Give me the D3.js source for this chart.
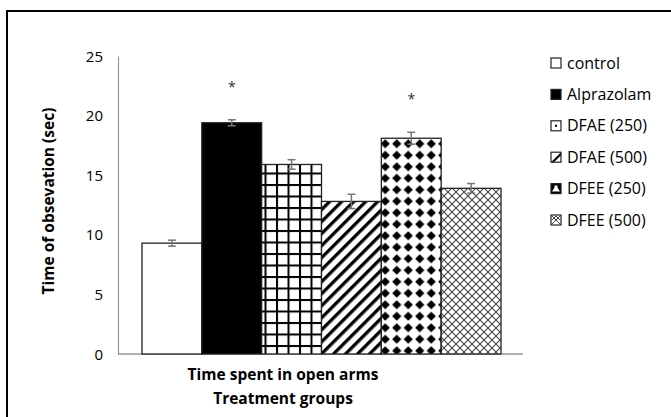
<!DOCTYPE html>
<html>
<head>
<meta charset="utf-8">
<script src="https://cdn.jsdelivr.net/npm/d3@7"></script>
<style>
  html, body { margin: 0; padding: 0; background: #fff; }
  svg { display: block; }
  text { font-family: "Open Sans", "Noto Sans", sans-serif; }
</style>
</head>
<body>
<svg id="chart" width="671" height="417"></svg>
<script>
// Treatment groups and mean time spent in open arms (sec) with SEM
const groups = ["control", "Alprazolam", "DFAE (250)", "DFAE (500)", "DFEE (250)", "DFEE (500)"];
const means  = [9.3, 19.4, 15.9, 12.8, 18.1, 13.9];
const errors = [0.25, 0.25, 0.4, 0.6, 0.5, 0.4];
const significant = [false, true, false, false, true, false];
const yTicks = [0, 5, 10, 15, 20, 25];
const xLabel = "Time spent in open arms";
const xTitle = "Treatment groups";
const yTitle = "Time of obsevation (sec)";

const svg = d3.select("#chart");
const defs = svg.append("defs");

// Fill patterns for each group
// grid
let p = defs.append("pattern").attr("id", "grid").attr("patternUnits", "userSpaceOnUse")
  .attr("width", 11.5).attr("height", 11.5);
p.append("rect").attr("width", 11.5).attr("height", 11.5).attr("fill", "#fff");
p.append("rect").attr("width", 2).attr("height", 11.5).attr("fill", "#000");
p.append("rect").attr("width", 11.5).attr("height", 2).attr("fill", "#000");

// diagonal stripes (/)
p = defs.append("pattern").attr("id", "diag").attr("patternUnits", "userSpaceOnUse")
  .attr("width", 8.5).attr("height", 8.5).attr("patternTransform", "rotate(45)");
p.append("rect").attr("width", 8.5).attr("height", 8.5).attr("fill", "#fff");
p.append("rect").attr("width", 3.3).attr("height", 8.5).attr("fill", "#000");

// diamonds
const dd = 11.5, dc = dd / 2, dr = 4.6;
p = defs.append("pattern").attr("id", "diam").attr("patternUnits", "userSpaceOnUse")
  .attr("width", dd).attr("height", dd);
p.append("rect").attr("width", dd).attr("height", dd).attr("fill", "#fff");
p.append("path").attr("d", `M${dc},${dc - dr}L${dc + dr},${dc}L${dc},${dc + dr}L${dc - dr},${dc}Z`).attr("fill", "#000");

// crosshatch
const h = 8;
p = defs.append("pattern").attr("id", "cross").attr("patternUnits", "userSpaceOnUse")
  .attr("width", h).attr("height", h);
p.append("rect").attr("width", h).attr("height", h).attr("fill", "#fff");
p.append("path").attr("d", `M0,0L${h},${h}M${h},0L0,${h}M${-h / 2},${h / 2}L${h / 2},${h * 1.5}M${h / 2},${-h / 2}L${h * 1.5},${h / 2}`)
  .attr("stroke", "#444").attr("stroke-width", 1.1);

const barFills = ["#fff", "#000", "url(#grid)", "url(#diag)", "url(#diam)", "url(#cross)"];

// Outer frame
svg.append("rect").attr("x", 7).attr("y", 11).attr("width", 680).attr("height", 420)
  .attr("fill", "none").attr("stroke", "#000").attr("stroke-width", 2);

// Scales
const x = d3.scaleBand().domain(groups).range([142, 501]).paddingInner(0).paddingOuter(0);
const y = d3.scaleLinear().domain([0, 25]).range([354, 56]);

// Y axis
const yAxis = d3.axisLeft(y).tickValues(yTicks).tickSize(0).tickPadding(15);
const gy = svg.append("g").attr("transform", "translate(118,0)").call(yAxis);
gy.select(".domain").attr("stroke", "#999").attr("stroke-width", 1.2);
gy.selectAll("text").attr("font-size", 15).attr("fill", "#000").attr("dy", "0.34em")
  .attr("font-family", "'Open Sans', sans-serif");

// X axis baseline
svg.append("line").attr("x1", 118).attr("x2", 523).attr("y1", y(0)).attr("y2", y(0))
  .attr("stroke", "#999").attr("stroke-width", 1.5);

// Bars
svg.append("g").selectAll("rect").data(groups).join("rect")
  .attr("x", d => x(d))
  .attr("y", (d, i) => y(means[i]))
  .attr("width", x.bandwidth())
  .attr("height", (d, i) => y(0) - y(means[i]))
  .attr("fill", (d, i) => barFills[i])
  .attr("stroke", "#222").attr("stroke-width", 1.3);

// Error bars
const eb = svg.append("g").attr("stroke", "#777").attr("stroke-width", 1.5);
groups.forEach((g, i) => {
  const cx = x(g) + x.bandwidth() / 2;
  const top = y(means[i] + errors[i]), bot = y(means[i] - errors[i]);
  eb.append("line").attr("x1", cx).attr("x2", cx).attr("y1", top).attr("y2", bot);
  eb.append("line").attr("x1", cx - 4).attr("x2", cx + 4).attr("y1", top).attr("y2", top);
  eb.append("line").attr("x1", cx - 4).attr("x2", cx + 4).attr("y1", bot).attr("y2", bot);
});

// Significance marks
svg.append("g").selectAll("text").data(groups.filter((g, i) => significant[i])).join("text")
  .attr("x", d => x(d) + x.bandwidth() / 2)
  .attr("y", d => { const i = groups.indexOf(d); return y(means[i] + errors[i]) - 28; })
  .attr("text-anchor", "middle").attr("font-size", 14).attr("fill", "#333").text("*");

// X labels
svg.append("text").attr("x", 283).attr("y", 380).attr("text-anchor", "middle")
  .attr("font-size", 15.5).attr("font-weight", "bold").text(xLabel);
svg.append("text").attr("x", 283).attr("y", 404).attr("text-anchor", "middle")
  .attr("font-size", 15.5).attr("font-weight", "bold").text(xTitle);

// Y title
svg.append("text").attr("transform", "translate(54,201) rotate(-90)").attr("text-anchor", "middle")
  .attr("font-size", 15.5).attr("font-weight", "bold").text(yTitle);

// Legend swatches: small glyph versions of each fill
const swatch = [
  g => {},
  g => {},
  g => g.append("rect").attr("x", 4).attr("y", 4).attr("width", 2).attr("height", 2).attr("fill", "#000"),
  g => g.append("path").attr("d", "M10,0L10,3L3,10L0,10Z").attr("fill", "#000"),
  g => g.append("path").attr("d", "M3.5,2L6.5,2L6.5,4L9,8L1,8L3.5,4Z").attr("fill", "#fff"),
  g => g.append("path").attr("d", "M1,1L9,9M9,1L1,9M5,1L1,5M5,1L9,5").attr("stroke", "#444").attr("stroke-width", 1).attr("fill", "none")
];
const swatchBase = ["#fff", "#000", "#fff", "#fff", "#000", "#fff"];

const lg = svg.append("g");
groups.forEach((g, i) => {
  const yy = 63 + i * 31.4;
  const s = lg.append("g").attr("transform", `translate(551,${yy - 5})`);
  s.append("rect").attr("width", 10).attr("height", 10).attr("fill", swatchBase[i]);
  swatch[i](s);
  s.append("rect").attr("width", 10).attr("height", 10).attr("fill", "none")
    .attr("stroke", "#222").attr("stroke-width", 1.2);
  lg.append("text").attr("x", 567).attr("y", yy).attr("dy", "0.35em")
    .attr("font-size", 16).attr("fill", "#000").text(g);
});
</script>
</body>
</html>
